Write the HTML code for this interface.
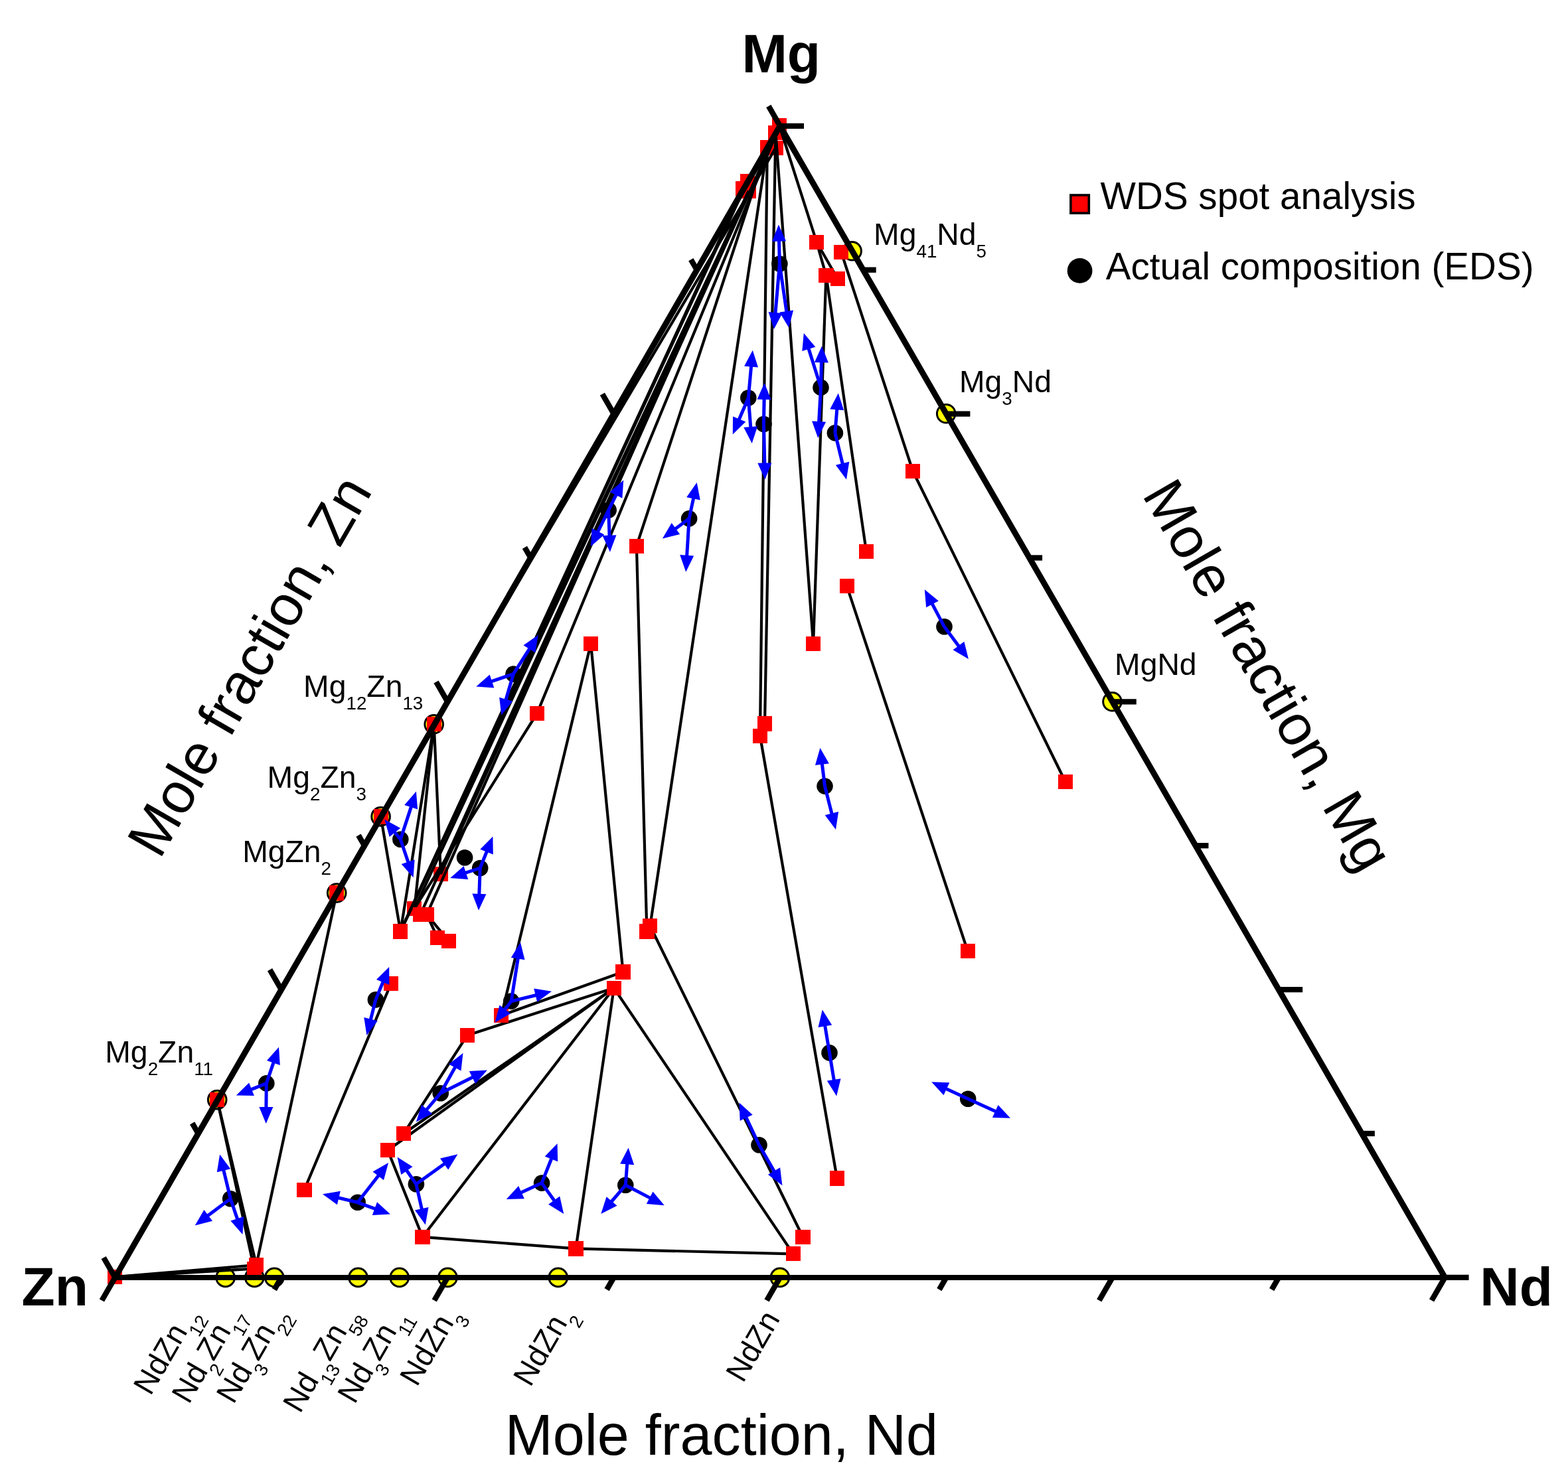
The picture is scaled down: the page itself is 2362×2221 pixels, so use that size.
<!DOCTYPE html>
<html lang="en">
<head>
<meta charset="utf-8">
<title>Mg-Zn-Nd ternary diagram</title>
<style>html,body{margin:0;padding:0;background:#fff}svg{display:block}</style>
</head>
<body>
<svg width="2362" height="2221" viewBox="0 0 2362 2221">
<rect width="2362" height="2221" fill="#fff"/>
<g fill="#ff0" stroke="#000" stroke-width="3">
<circle cx="1283.6" cy="378.2" r="13.8"/>
<circle cx="1425.2" cy="623.3" r="13.8"/>
<circle cx="1675.5" cy="1057.2" r="13.8"/>
<circle cx="653.7" cy="1091.3" r="13.8"/>
<circle cx="573.6" cy="1230.4" r="13.8"/>
<circle cx="507.2" cy="1345.5" r="13.8"/>
<circle cx="327.2" cy="1657.1" r="13.8"/>
<circle cx="339.6" cy="1924.9" r="13.8"/>
<circle cx="383.3" cy="1924.9" r="13.8"/>
<circle cx="413.3" cy="1924.9" r="13.8"/>
<circle cx="539.5" cy="1924.9" r="13.8"/>
<circle cx="601.7" cy="1924.9" r="13.8"/>
<circle cx="674.4" cy="1924.9" r="13.8"/>
<circle cx="840.8" cy="1924.9" r="13.8"/>
<circle cx="1174.9" cy="1924.9" r="13.8"/>
</g>
<g fill="#f00" shape-rendering="crispEdges">
<rect x="161.7" y="1912.9" width="22.3" height="22.3"/>
<rect x="1108" y="273.2" width="22.3" height="22.3"/>
<rect x="1116.6" y="276.8" width="22.3" height="22.3"/>
<rect x="1115.1" y="261.8" width="22.3" height="22.3"/>
<rect x="1144.6" y="210.8" width="22.3" height="22.3"/>
<rect x="1157.2" y="211.9" width="22.3" height="22.3"/>
<rect x="1157.2" y="188.5" width="22.3" height="22.3"/>
<rect x="1163" y="178.3" width="22.3" height="22.3"/>
<rect x="652.8" y="1306" width="22.3" height="22.3"/>
<rect x="613.1" y="1358" width="22.3" height="22.3"/>
<rect x="1140.8" y="1079.3" width="22.3" height="22.3"/>
</g>
<g fill="none" stroke="#000" stroke-linecap="butt">
<path d="M1155.8 222L979.3 1395.2" stroke-width="4.20"/>
<path d="M958.9 822.7L974.4 1403.4" stroke-width="4.20"/>
<path d="M1155.8 222L958.9 822.7" stroke-width="4.20"/>
<path d="M1168.4 223.1L653.7 1091.3" stroke-width="4.20"/>
<path d="M1155.8 222L1144.9 1108.7" stroke-width="4.20"/>
<path d="M1168.4 199.7L1152 1090.5" stroke-width="4.20"/>
<path d="M1168.4 199.7L1225.1 970" stroke-width="4.20"/>
<path d="M1244.4 414.8L1225.1 970" stroke-width="4.20"/>
<path d="M1244.4 414.8L1305 831.3" stroke-width="4.20"/>
<path d="M1267.3 380.2L1375 709.7" stroke-width="4.20"/>
<path d="M1375 709.7L1605 1178.2" stroke-width="4.20"/>
<path d="M1174.2 189.5L1230.1 364.7" stroke-width="4.20"/>
<path d="M1230.1 364.7L1244.4 414.8" stroke-width="4.20"/>
<path d="M1230.1 364.7L1261.7 420" stroke-width="4.20"/>
<path d="M1275.7 883.1L1457.8 1433.3" stroke-width="4.20"/>
<path d="M1144.9 1108.7L1260.9 1775.6" stroke-width="4.20"/>
<path d="M979.3 1395.2L1209.5 1864" stroke-width="4.20"/>
<path d="M924.8 1488.8L1194.9 1889.3" stroke-width="4.20"/>
<path d="M1174.2 189.5L808.9 1075.1" stroke-width="4.20"/>
<path d="M808.9 1075.1L624.3 1369.2" stroke-width="4.20"/>
<path d="M1127.8 287.9L603.3 1403.5" stroke-width="4.20"/>
<path d="M1119.2 284.3L603.3 1403.5" stroke-width="4.20"/>
<path d="M1126.3 272.9L603.3 1403.5" stroke-width="4.20"/>
<path d="M1127.8 287.9L624.3 1369.2" stroke-width="4.20"/>
<path d="M1127.8 287.9L633.3 1377.8" stroke-width="4.20"/>
<path d="M1127.8 287.9L642.9 1377.8" stroke-width="4.20"/>
<path d="M1174.2 189.5L663.9 1317.2" stroke-width="4.20"/>
<path d="M890 970L938.5 1464.4" stroke-width="4.20"/>
<path d="M890 970L755.3 1530" stroke-width="4.20"/>
<path d="M938.5 1464.4L755.3 1530" stroke-width="4.20"/>
<path d="M924.8 1488.8L703.9 1559.9" stroke-width="4.20"/>
<path d="M703.9 1559.9L608.2 1708" stroke-width="4.20"/>
<path d="M608.2 1708L924.8 1488.8" stroke-width="4.20"/>
<path d="M584.1 1733.3L924.8 1488.8" stroke-width="4.20"/>
<path d="M584.1 1733.3L636.5 1863.8" stroke-width="4.20"/>
<path d="M636.5 1863.8L924.8 1488.8" stroke-width="4.20"/>
<path d="M636.5 1863.8L867.4 1881.4" stroke-width="4.20"/>
<path d="M867.4 1881.4L924.8 1488.8" stroke-width="4.20"/>
<path d="M867.4 1881.4L1194.9 1889.3" stroke-width="4.20"/>
<path d="M589 1482L458.4 1792.8" stroke-width="4.20"/>
<path d="M653.7 1091.3L603.3 1403.5" stroke-width="4.20"/>
<path d="M653.7 1091.3L624.3 1369.2" stroke-width="4.20"/>
<path d="M653.7 1091.3L663.9 1317.2" stroke-width="4.20"/>
<path d="M573.6 1230.4L603.3 1403.5" stroke-width="4.20"/>
<path d="M507.2 1345.5L386.1 1906.1" stroke-width="4.20"/>
<path d="M327.2 1657.1L386.1 1906.1" stroke-width="4.20"/>
<path d="M327.2 1657.1L382.9 1911.7" stroke-width="4.20"/>
<path d="M172.8 1924.1L382.9 1911.7" stroke-width="4.20"/>
<path d="M172.8 1924.1L386.1 1906.1" stroke-width="4.20"/>
<path d="M642.9 1377.8L659 1412.9" stroke-width="4.20"/>
<path d="M642.9 1377.8L675.7 1417.8" stroke-width="4.20"/>
</g>
<g fill="#f00" shape-rendering="crispEdges">
<rect x="642.6" y="1080.1" width="22.3" height="22.3"/>
<rect x="562.5" y="1219.2" width="22.3" height="22.3"/>
<rect x="496.1" y="1334.3" width="22.3" height="22.3"/>
<rect x="316.1" y="1645.9" width="22.3" height="22.3"/>
<rect x="371.8" y="1900.5" width="22.3" height="22.3"/>
<rect x="375" y="1894.9" width="22.3" height="22.3"/>
<rect x="1218.9" y="353.6" width="22.3" height="22.3"/>
<rect x="1256.1" y="369.1" width="22.3" height="22.3"/>
<rect x="1233.2" y="403.7" width="22.3" height="22.3"/>
<rect x="1250.5" y="408.9" width="22.3" height="22.3"/>
<rect x="1363.8" y="698.6" width="22.3" height="22.3"/>
<rect x="1293.8" y="820.1" width="22.3" height="22.3"/>
<rect x="1264.5" y="872" width="22.3" height="22.3"/>
<rect x="947.8" y="811.6" width="22.3" height="22.3"/>
<rect x="1213.9" y="958.9" width="22.3" height="22.3"/>
<rect x="1140.8" y="1079.3" width="22.3" height="22.3"/>
<rect x="1133.8" y="1097.5" width="22.3" height="22.3"/>
<rect x="878.9" y="958.9" width="22.3" height="22.3"/>
<rect x="797.8" y="1063.9" width="22.3" height="22.3"/>
<rect x="1593.8" y="1167" width="22.3" height="22.3"/>
<rect x="1446.6" y="1422.1" width="22.3" height="22.3"/>
<rect x="1249.8" y="1764.4" width="22.3" height="22.3"/>
<rect x="1198.3" y="1852.8" width="22.3" height="22.3"/>
<rect x="1183.8" y="1878.1" width="22.3" height="22.3"/>
<rect x="856.2" y="1870.2" width="22.3" height="22.3"/>
<rect x="625.4" y="1852.6" width="22.3" height="22.3"/>
<rect x="573" y="1722.1" width="22.3" height="22.3"/>
<rect x="597.1" y="1696.8" width="22.3" height="22.3"/>
<rect x="692.8" y="1548.8" width="22.3" height="22.3"/>
<rect x="744.1" y="1518.8" width="22.3" height="22.3"/>
<rect x="927.4" y="1453.2" width="22.3" height="22.3"/>
<rect x="913.6" y="1477.6" width="22.3" height="22.3"/>
<rect x="968.1" y="1384" width="22.3" height="22.3"/>
<rect x="963.2" y="1392.2" width="22.3" height="22.3"/>
<rect x="447.2" y="1781.6" width="22.3" height="22.3"/>
<rect x="577.9" y="1470.8" width="22.3" height="22.3"/>
<rect x="622.1" y="1366.6" width="22.3" height="22.3"/>
<rect x="631.8" y="1366.6" width="22.3" height="22.3"/>
<rect x="592.1" y="1392.3" width="22.3" height="22.3"/>
<rect x="647.9" y="1401.8" width="22.3" height="22.3"/>
<rect x="664.6" y="1406.6" width="22.3" height="22.3"/>
</g>
<g fill="none" stroke="#000" stroke-linecap="square">
</g>
<g fill="#000">
<circle cx="1174.4" cy="397.5" r="12.3"/>
<circle cx="1127.3" cy="599.5" r="12.3"/>
<circle cx="1150.5" cy="639.1" r="12.3"/>
<circle cx="1236.5" cy="583.9" r="12.3"/>
<circle cx="1257.9" cy="652.4" r="12.3"/>
<circle cx="1038.1" cy="781.4" r="12.3"/>
<circle cx="916.7" cy="768.6" r="12.3"/>
<circle cx="1422.5" cy="944.3" r="12.3"/>
<circle cx="1242.5" cy="1184.6" r="12.3"/>
<circle cx="773.4" cy="1015.6" r="12.3"/>
<circle cx="603.3" cy="1264.8" r="12.3"/>
<circle cx="700.1" cy="1292.2" r="12.3"/>
<circle cx="723.2" cy="1308" r="12.3"/>
<circle cx="565.9" cy="1506.4" r="12.3"/>
<circle cx="663.7" cy="1647.2" r="12.3"/>
<circle cx="626.9" cy="1784.2" r="12.3"/>
<circle cx="538.7" cy="1811.8" r="12.3"/>
<circle cx="401.3" cy="1632.4" r="12.3"/>
<circle cx="770.2" cy="1508.6" r="12.3"/>
<circle cx="816.1" cy="1782.6" r="12.3"/>
<circle cx="942.3" cy="1785.8" r="12.3"/>
<circle cx="1143.5" cy="1725.2" r="12.3"/>
<circle cx="1249.5" cy="1586.4" r="12.3"/>
<circle cx="1458.2" cy="1655.7" r="12.3"/>
<circle cx="347.2" cy="1806.2" r="12.3"/>
</g>
<g fill="#00f" stroke="#00f">
<path d="M1174.4 397.5L1173.5 361.6" stroke-width="5.00"/>
<path d="M1172.9 338.6L1184 363.3L1163 363.9Z" stroke="none"/>
<path d="M1174.4 397.5L1167.9 473" stroke-width="5.00"/>
<path d="M1165.9 495.9L1157.6 470.1L1178.5 471.9Z" stroke="none"/>
<path d="M1174.4 397.5L1185 471" stroke-width="5.00"/>
<path d="M1188.3 493.8L1174.3 470.6L1195.1 467.6Z" stroke="none"/>
<path d="M1127.3 599.5L1131.7 550.7" stroke-width="5.00"/>
<path d="M1133.8 527.8L1142 553.6L1121.1 551.7Z" stroke="none"/>
<path d="M1127.3 599.5L1112.8 633.3" stroke-width="5.00"/>
<path d="M1103.8 654.5L1104 627.4L1123.3 635.6Z" stroke="none"/>
<path d="M1127.3 599.5L1130.9 645.1" stroke-width="5.00"/>
<path d="M1132.7 668L1120.3 643.9L1141.2 642.3Z" stroke="none"/>
<path d="M1150.5 639.1L1151.1 600" stroke-width="5.00"/>
<path d="M1151.5 577L1161.6 602.2L1140.6 601.8Z" stroke="none"/>
<path d="M1150.5 639.1L1151.9 699.6" stroke-width="5.00"/>
<path d="M1152.4 722.6L1141.3 697.8L1162.3 697.4Z" stroke="none"/>
<path d="M1236.5 583.9L1217.7 524" stroke-width="5.00"/>
<path d="M1210.8 502.1L1228.3 522.8L1208.3 529.1Z" stroke="none"/>
<path d="M1236.5 583.9L1237.4 544.4" stroke-width="5.00"/>
<path d="M1238 521.4L1247.9 546.6L1226.9 546.1Z" stroke="none"/>
<path d="M1236.5 583.9L1233.5 637.1" stroke-width="5.00"/>
<path d="M1232.2 660.1L1223.1 634.5L1244.1 635.7Z" stroke="none"/>
<path d="M1257.9 652.4L1260.9 615.4" stroke-width="5.00"/>
<path d="M1262.8 592.5L1271.2 618.3L1250.3 616.6Z" stroke="none"/>
<path d="M1257.9 652.4L1269.6 700.3" stroke-width="5.00"/>
<path d="M1275 722.6L1258.9 700.8L1279.3 695.8Z" stroke="none"/>
<path d="M1038.1 781.4L1044.9 749.4" stroke-width="5.00"/>
<path d="M1049.7 726.9L1054.8 753.5L1034.2 749.2Z" stroke="none"/>
<path d="M1038.1 781.4L1016.3 797.6" stroke-width="5.00"/>
<path d="M997.9 811.4L1011.7 788L1024.2 804.9Z" stroke="none"/>
<path d="M1038.1 781.4L1034.6 838.7" stroke-width="5.00"/>
<path d="M1033.2 861.7L1024.2 836.1L1045.2 837.4Z" stroke="none"/>
<path d="M916.7 768.6L928.9 744.2" stroke-width="5.00"/>
<path d="M939.2 723.6L937.4 750.7L918.6 741.3Z" stroke="none"/>
<path d="M916.7 768.6L900.1 802.5" stroke-width="5.00"/>
<path d="M890 823.2L891.5 796.1L910.4 805.4Z" stroke="none"/>
<path d="M916.7 768.6L918.1 808.7" stroke-width="5.00"/>
<path d="M918.9 831.7L907.5 807.1L928.5 806.3Z" stroke="none"/>
<path d="M1422.5 944.3L1403.6 908.6" stroke-width="5.00"/>
<path d="M1392.8 888.3L1413.8 905.5L1395.2 915.3Z" stroke="none"/>
<path d="M1422.5 944.3L1445.1 974.7" stroke-width="5.00"/>
<path d="M1458.9 993.1L1435.5 979.3L1452.4 966.8Z" stroke="none"/>
<path d="M1242.5 1184.6L1238.2 1149.7" stroke-width="5.00"/>
<path d="M1235.4 1126.9L1248.9 1150.4L1228 1153Z" stroke="none"/>
<path d="M1242.5 1184.6L1253.4 1227.6" stroke-width="5.00"/>
<path d="M1259 1249.9L1242.7 1228.2L1263.1 1223.1Z" stroke="none"/>
<path d="M773.4 1015.6L798.5 976.1" stroke-width="5.00"/>
<path d="M810.8 956.7L806.3 983.4L788.5 972.2Z" stroke="none"/>
<path d="M773.4 1015.6L739.1 1027.1" stroke-width="5.00"/>
<path d="M717.3 1034.4L737.7 1016.5L744.3 1036.4Z" stroke="none"/>
<path d="M773.4 1015.6L761.7 1055.5" stroke-width="5.00"/>
<path d="M755.2 1077.6L752.2 1050.7L772.3 1056.6Z" stroke="none"/>
<path d="M603.3 1264.8L619.8 1214.4" stroke-width="5.00"/>
<path d="M626.9 1192.5L629.1 1219.5L609.2 1213Z" stroke="none"/>
<path d="M603.3 1264.8L593.7 1252.8" stroke-width="5.00"/>
<path d="M579.3 1234.8L603.1 1247.8L586.7 1260.9Z" stroke="none"/>
<path d="M603.3 1264.8L615.3 1300.4" stroke-width="5.00"/>
<path d="M622.6 1322.2L604.7 1301.9L624.6 1295.2Z" stroke="none"/>
<path d="M723.2 1308L733.8 1281.8" stroke-width="5.00"/>
<path d="M742.4 1260.5L742.8 1287.6L723.3 1279.7Z" stroke="none"/>
<path d="M723.2 1308L700 1315.7" stroke-width="5.00"/>
<path d="M678.2 1323L698.6 1305.1L705.2 1325.1Z" stroke="none"/>
<path d="M723.2 1308L721.8 1348.8" stroke-width="5.00"/>
<path d="M721 1371.8L711.4 1346.5L732.4 1347.2Z" stroke="none"/>
<path d="M565.9 1506.4L577.5 1478.3" stroke-width="5.00"/>
<path d="M586.2 1457L586.4 1484.1L567 1476.1Z" stroke="none"/>
<path d="M565.9 1506.4L558 1537.6" stroke-width="5.00"/>
<path d="M552.4 1559.9L548.3 1533.1L568.7 1538.2Z" stroke="none"/>
<path d="M663.7 1647.2L686.3 1606.8" stroke-width="5.00"/>
<path d="M697.5 1586.7L694.5 1613.6L676.1 1603.4Z" stroke="none"/>
<path d="M663.7 1647.2L713.3 1622.6" stroke-width="5.00"/>
<path d="M733.9 1612.4L716.2 1632.9L706.8 1614.1Z" stroke="none"/>
<path d="M663.7 1647.2L641.8 1673" stroke-width="5.00"/>
<path d="M626.9 1690.5L635.1 1664.7L651.1 1678.3Z" stroke="none"/>
<path d="M626.9 1784.2L611.8 1762.5" stroke-width="5.00"/>
<path d="M598.6 1743.6L621.5 1758.1L604.3 1770.1Z" stroke="none"/>
<path d="M626.9 1784.2L670.7 1752.7" stroke-width="5.00"/>
<path d="M689.4 1739.3L675.2 1762.4L663 1745.4Z" stroke="none"/>
<path d="M626.9 1784.2L635.7 1823.2" stroke-width="5.00"/>
<path d="M640.8 1845.6L625 1823.5L645.5 1818.9Z" stroke="none"/>
<path d="M538.7 1811.8L571 1770.3" stroke-width="5.00"/>
<path d="M585.1 1752.1L578 1778.3L561.5 1765.4Z" stroke="none"/>
<path d="M538.7 1811.8L508.4 1804.5" stroke-width="5.00"/>
<path d="M486 1799.2L512.8 1794.8L507.9 1815.2Z" stroke="none"/>
<path d="M538.7 1811.8L566.3 1821.8" stroke-width="5.00"/>
<path d="M587.9 1829.6L560.8 1831L568 1811.2Z" stroke="none"/>
<path d="M401.3 1632.4L412.5 1599.6" stroke-width="5.00"/>
<path d="M420 1577.8L421.8 1604.9L402 1598Z" stroke="none"/>
<path d="M401.3 1632.4L377.2 1642.1" stroke-width="5.00"/>
<path d="M355.8 1650.6L375.1 1631.6L382.9 1651.1Z" stroke="none"/>
<path d="M401.3 1632.4L400.9 1670" stroke-width="5.00"/>
<path d="M400.7 1693L390.4 1667.9L411.4 1668.1Z" stroke="none"/>
<path d="M770.2 1508.6L780.5 1442.7" stroke-width="5.00"/>
<path d="M784 1420L790.5 1446.3L769.8 1443.1Z" stroke="none"/>
<path d="M770.2 1508.6L759.6 1522.4" stroke-width="5.00"/>
<path d="M745.6 1540.7L752.5 1514.5L769.1 1527.2Z" stroke="none"/>
<path d="M770.2 1508.6L808.7 1499.2" stroke-width="5.00"/>
<path d="M831 1493.7L809.2 1509.8L804.2 1489.5Z" stroke="none"/>
<path d="M816.1 1782.6L831.2 1744.5" stroke-width="5.00"/>
<path d="M839.6 1723.1L840.2 1750.2L820.7 1742.5Z" stroke="none"/>
<path d="M816.1 1782.6L835.8 1810.3" stroke-width="5.00"/>
<path d="M849.2 1829L826.1 1814.7L843.2 1802.6Z" stroke="none"/>
<path d="M816.1 1782.6L783.7 1797.5" stroke-width="5.00"/>
<path d="M762.8 1807.1L781.1 1787.1L789.9 1806.2Z" stroke="none"/>
<path d="M942.3 1785.8L944.8 1752.4" stroke-width="5.00"/>
<path d="M946.6 1729.5L955.2 1755.2L934.2 1753.6Z" stroke="none"/>
<path d="M942.3 1785.8L920.3 1811.5" stroke-width="5.00"/>
<path d="M905.3 1829L913.6 1803.2L929.5 1816.8Z" stroke="none"/>
<path d="M942.3 1785.8L980.4 1805.6" stroke-width="5.00"/>
<path d="M1000.8 1816.2L973.8 1814L983.5 1795.4Z" stroke="none"/>
<path d="M1143.5 1725.2L1123.3 1682.4" stroke-width="5.00"/>
<path d="M1113.5 1661.6L1133.7 1679.7L1114.7 1688.7Z" stroke="none"/>
<path d="M1143.5 1725.2L1167 1766.2" stroke-width="5.00"/>
<path d="M1178.4 1786.2L1156.9 1769.7L1175.1 1759.3Z" stroke="none"/>
<path d="M1249.5 1586.4L1242.5 1544.2" stroke-width="5.00"/>
<path d="M1238.8 1521.5L1253.2 1544.5L1232.5 1547.9Z" stroke="none"/>
<path d="M1249.5 1586.4L1256.5 1628.9" stroke-width="5.00"/>
<path d="M1260.2 1651.6L1245.8 1628.6L1266.5 1625.2Z" stroke="none"/>
<path d="M1458.2 1655.7L1424.1 1639.9" stroke-width="5.00"/>
<path d="M1403.2 1630.2L1430.3 1631.2L1421.5 1650.2Z" stroke="none"/>
<path d="M1458.2 1655.7L1501.1 1675.3" stroke-width="5.00"/>
<path d="M1522 1684.8L1494.9 1684L1503.6 1664.9Z" stroke="none"/>
<path d="M347.2 1806.2L336.5 1761.8" stroke-width="5.00"/>
<path d="M331.1 1739.4L347.2 1761.2L326.8 1766.2Z" stroke="none"/>
<path d="M347.2 1806.2L312.1 1832.6" stroke-width="5.00"/>
<path d="M293.7 1846.4L307.4 1823L320 1839.8Z" stroke="none"/>
<path d="M347.2 1806.2L358 1838.1" stroke-width="5.00"/>
<path d="M365.4 1859.9L347.4 1839.6L367.3 1832.9Z" stroke="none"/>
</g>
<g fill="none" stroke="#000" stroke-linecap="butt">
<path d="M173.4 1924.9L2176.6 1924.9" stroke-width="8.00"/>
<path d="M2176.6 1924.9L1175 189.8" stroke-width="8.90" stroke-linecap="round"/>
<path d="M1175 189.8L173.4 1924.9" stroke-width="8.90" stroke-linecap="round"/>
<path d="M173.4 1924.9L153.4 1959.5" stroke-width="8.30"/>
<path d="M2176.6 1924.9L2212.6 1924.9" stroke-width="8.30"/>
<path d="M1175 189.8L1157.8 159.9" stroke-width="8.30"/>
<path d="M423.8 1924.9L413.3 1943.1" stroke-width="8.30"/>
<path d="M2051.4 1708L2070.9 1708" stroke-width="8.30"/>
<path d="M1049.8 406.7L1040.8 391.1" stroke-width="8.30"/>
<path d="M674.2 1924.9L654.2 1959.5" stroke-width="8.30"/>
<path d="M1926.2 1491.1L1962.2 1491.1" stroke-width="8.30"/>
<path d="M924.6 623.6L907.4 593.7" stroke-width="8.30"/>
<path d="M924.6 1924.9L914.1 1943.1" stroke-width="8.30"/>
<path d="M1801 1274.2L1820.5 1274.2" stroke-width="8.30"/>
<path d="M799.4 840.5L790.4 824.9" stroke-width="8.30"/>
<path d="M1175 1924.9L1155 1959.5" stroke-width="8.30"/>
<path d="M1675.8 1057.3L1711.8 1057.3" stroke-width="8.30"/>
<path d="M674.2 1057.4L657 1027.5" stroke-width="8.30"/>
<path d="M1425.4 1924.9L1414.9 1943.1" stroke-width="8.30"/>
<path d="M1550.6 840.5L1570.1 840.5" stroke-width="8.30"/>
<path d="M549 1274.2L540 1258.6" stroke-width="8.30"/>
<path d="M1675.8 1924.9L1655.8 1959.5" stroke-width="8.30"/>
<path d="M1425.4 623.6L1461.4 623.6" stroke-width="8.30"/>
<path d="M423.8 1491.1L406.5 1461.2" stroke-width="8.30"/>
<path d="M1926.2 1924.9L1915.7 1943.1" stroke-width="8.30"/>
<path d="M1300.2 406.7L1319.7 406.7" stroke-width="8.30"/>
<path d="M298.6 1708L289.6 1692.4" stroke-width="8.30"/>
<path d="M2176.6 1924.9L2156.6 1959.5" stroke-width="8.30"/>
<path d="M1175 189.8L1211 189.8" stroke-width="8.30"/>
<path d="M173.4 1924.9L156.1 1895" stroke-width="8.30"/>
</g>
<rect x="1612.9" y="294" width="27.4" height="27.1" fill="#f00" stroke="#000" stroke-width="3.6"/>
<circle cx="1626.6" cy="407.9" r="18.9" fill="#000"/>
<g font-family='"Liberation Sans", Arial, Helvetica, sans-serif' fill="#000">
<text transform="translate(1117.4 108.9)" font-size="82.2" font-weight="bold">Mg</text>
<text transform="translate(32.5 1966.9)" font-size="82.2" font-weight="bold">Zn</text>
<text transform="translate(2229.3 1966.9)" font-size="82.2" font-weight="bold">Nd</text>
<text transform="translate(760.8 2191.9)" font-size="86.3">Mole fraction, Nd</text>
<text transform="translate(240.6 1296.2) rotate(-60)" font-size="86.3">Mole fraction, Zn</text>
<text transform="translate(1719.4 745.3) rotate(60)" font-size="86.3">Mole fraction, Mg</text>
<text transform="translate(1657.6 314.8)" font-size="56.6">WDS spot analysis</text>
<text transform="translate(1665.8 420.7)" font-size="56.6">Actual composition (EDS)</text>
<text transform="translate(1445 590.9)" font-size="46.3">Mg<tspan dy="19" font-size="27.8">3</tspan><tspan dy="-19">Nd</tspan></text>
<text transform="translate(1316.1 369.1)" font-size="46.3">Mg<tspan dy="19" font-size="27.8">41</tspan><tspan dy="-19">Nd</tspan><tspan dy="19" font-size="27.8">5</tspan></text>
<text transform="translate(1679.1 1016.8)" font-size="46.3">MgNd</text>
<text transform="translate(457.1 1050)" font-size="46.3">Mg<tspan dy="19" font-size="27.8">12</tspan><tspan dy="-19">Zn</tspan><tspan dy="19" font-size="27.8">13</tspan></text>
<text transform="translate(402.6 1186.7)" font-size="46.3">Mg<tspan dy="19" font-size="27.8">2</tspan><tspan dy="-19">Zn</tspan><tspan dy="19" font-size="27.8">3</tspan></text>
<text transform="translate(365.2 1298.6)" font-size="46.3">MgZn<tspan dy="19" font-size="27.8">2</tspan></text>
<text transform="translate(158.3 1601.4)" font-size="46.3">Mg<tspan dy="19" font-size="27.8">2</tspan><tspan dy="-19">Zn</tspan><tspan dy="19" font-size="27.8">11</tspan></text>
<text transform="translate(226.8 2104.3) rotate(-60)" font-size="46.3">NdZn<tspan dy="19" font-size="27.8">12</tspan></text>
<text transform="translate(284.5 2117) rotate(-60)" font-size="46.3">Nd<tspan dy="19" font-size="27.8">2</tspan><tspan dy="-19">Zn</tspan><tspan dy="19" font-size="27.8">17</tspan></text>
<text transform="translate(351.8 2117) rotate(-60)" font-size="46.3">Nd<tspan dy="19" font-size="27.8">3</tspan><tspan dy="-19">Zn</tspan><tspan dy="19" font-size="27.8">22</tspan></text>
<text transform="translate(451.9 2130.9) rotate(-60)" font-size="46.3">Nd<tspan dy="19" font-size="27.8">13</tspan><tspan dy="-19">Zn</tspan><tspan dy="19" font-size="27.8">58</tspan></text>
<text transform="translate(534.3 2117.1) rotate(-60)" font-size="46.3">Nd<tspan dy="19" font-size="27.8">3</tspan><tspan dy="-19">Zn</tspan><tspan dy="19" font-size="27.8">11</tspan></text>
<text transform="translate(628 2090.8) rotate(-60)" font-size="46.3">NdZn<tspan dy="19" font-size="27.8">3</tspan></text>
<text transform="translate(799.1 2091.3) rotate(-60)" font-size="46.3">NdZn<tspan dy="19" font-size="27.8">2</tspan></text>
<text transform="translate(1119.2 2085) rotate(-60)" font-size="46.3">NdZn</text>
</g>
</svg>
</body>
</html>
